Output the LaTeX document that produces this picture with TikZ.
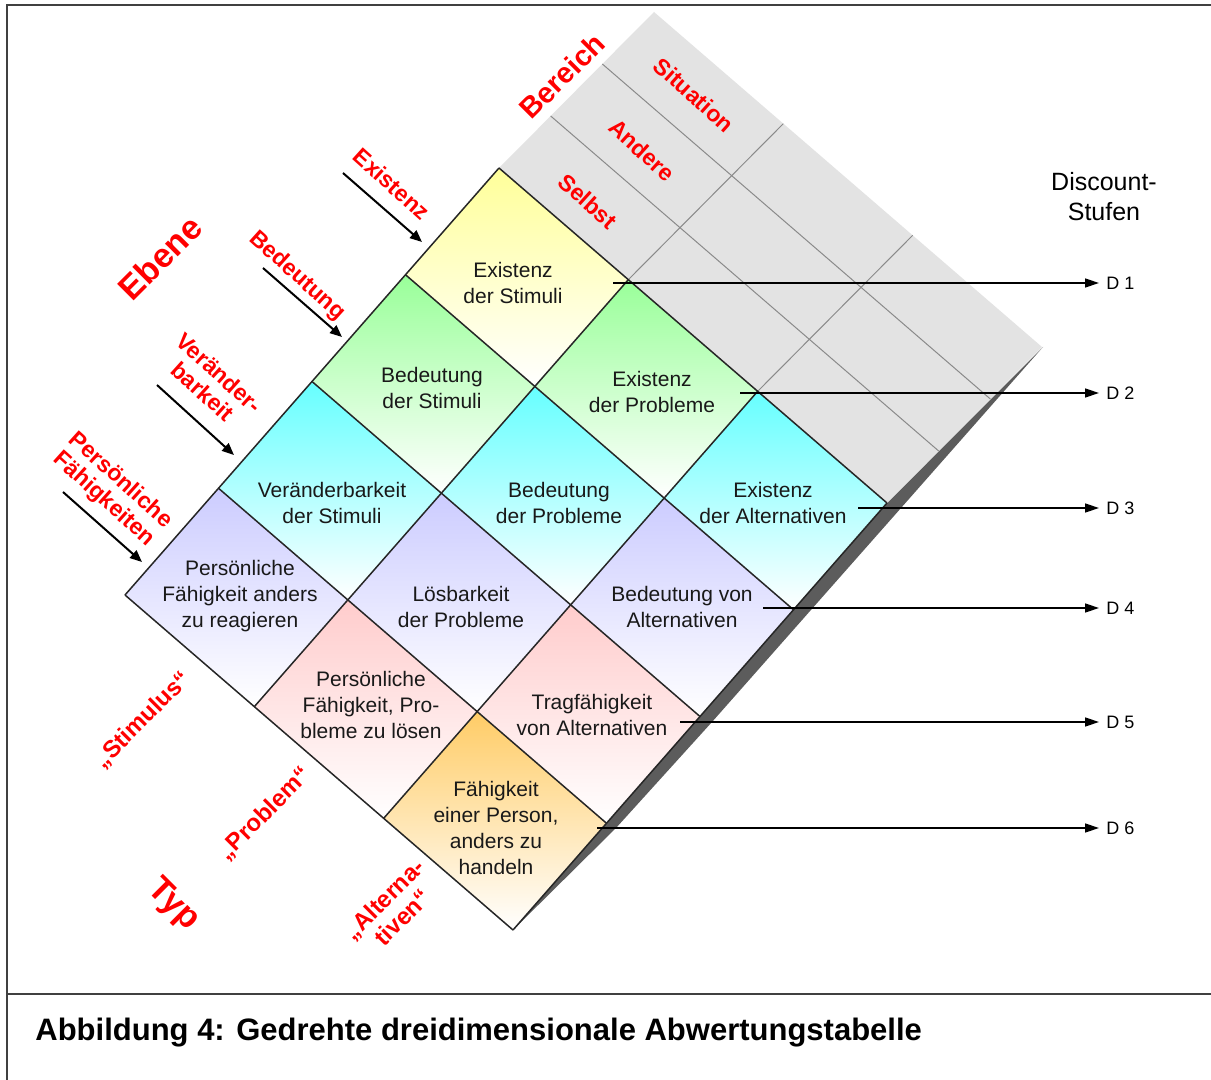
\documentclass[tikz,border=0pt]{standalone}
\usepackage{fontspec}
\setmainfont{Liberation Sans}
\usetikzlibrary{arrows.meta}
\definecolor{cY}{HTML}{FFFF99}
\definecolor{cG}{HTML}{99FF99}
\definecolor{cC}{HTML}{66FFFF}
\definecolor{cB}{HTML}{CCCCFF}
\definecolor{cP}{HTML}{FFCCCC}
\definecolor{cO}{HTML}{FFCC66}
\definecolor{topgrey}{HTML}{E3E3E3}
\definecolor{sidegrey}{HTML}{5C5C5C}
\definecolor{gridgrey}{HTML}{8A8A8A}
\definecolor{lblred}{HTML}{FF0000}
\definecolor{framegrey}{HTML}{404040}
\begin{document}
\begin{tikzpicture}[x=0.5pt,y=-0.5pt,
  celltext/.style={align=center, font=\fontsize{10.5}{13}\selectfont, text=black!90, inner sep=0pt},
  redlbl/.style={text=lblred, font=\bfseries\fontsize{11.5}{12.5}\selectfont, align=center, inner sep=0pt},
  midlbl/.style={text=lblred, font=\bfseries\fontsize{12}{13}\selectfont, align=center, inner sep=0pt},
  biglbl/.style={text=lblred, font=\bfseries\fontsize{17}{20}\selectfont, inner sep=0pt},
  lvlarrow/.style={-{Triangle[length=6pt,width=5pt]}, line width=1pt, black},
  darrow/.style={-{Triangle[length=7pt,width=4.5pt]}, line width=0.7pt, black},
  dlbl/.style={font=\fontsize{9}{10}\selectfont, anchor=west, inner ysep=0pt, inner xsep=3.5pt},
  cellborder/.style={draw=black!85, line width=0.75pt},
  topgrid/.style={draw=gridgrey, line width=0.5pt},
]
\useasboundingbox (0,0) rectangle (1211,1080);
\fill[white] (0,0) rectangle (1211,1080);

% frame
\draw[framegrey, line width=1pt] (7,1082) -- (7,5) -- (1213,5);
\draw[framegrey, line width=1pt] (7,994) -- (1213,994);

% side face (thin shaded strip)
\fill[sidegrey] (1043,347) -- (901,508) -- (712,722) -- (616,828) -- (513,930) -- (887,503) -- cycle;

\begin{scope}[shift={(499,168)}, x={(64.667pt,-55.833pt)}, y={(-46.75pt,-53.375pt)}, z={(25.833pt,26pt)}]
  % top face
  \fill[topgrey] (0,0,0) -- (3,0,0) -- (3,0,3) -- (0,0,3) -- cycle;
  \foreach \k in {1,2} \draw[topgrid] (0,0,\k) -- (3,0,\k);
  \foreach \j in {1,2} \draw[topgrid] (\j,0,0) -- (\j,0,3);
  % cells
  \foreach \i in {0,...,3}{
    \foreach \j in {0,1,2}{
      \pgfmathtruncatemacro{\d}{\i+\j}
      \ifcase\d \def\cc{cY}\or\def\cc{cG}\or\def\cc{cC}\or\def\cc{cB}\or\def\cc{cP}\or\def\cc{cO}\fi
      \shade[top color=\cc, bottom color=white] (\j,\i) -- (\j+1,\i) -- (\j+1,\i+1) -- (\j,\i+1) -- cycle;
    }
  }
  \foreach \i in {0,...,4} \draw[cellborder] (0,\i) -- (3,\i);
  \foreach \j in {0,...,3} \draw[cellborder] (\j,0) -- (\j,4);
\end{scope}

% cell texts
\node[celltext] (c00) at (513,283) {Existenz\\der Stimuli};
\node[celltext] (c01) at (652,392) {Existenz\\der Probleme};
\node[celltext] (c02) at (773,503) {Existenz\\der Alternativen};
\node[celltext] (c10) at (432,388) {Bedeutung\\der Stimuli};
\node[celltext] (c11) at (559,503) {Bedeutung\\der Probleme};
\node[celltext] (c12) at (682,607) {Bedeutung von\\Alternativen};
\node[celltext] (c20) at (332,503) {Veränderbarkeit\\der Stimuli};
\node[celltext] (c21) at (461,607) {Lösbarkeit\\der Probleme};
\node[celltext] (c22) at (592,715) {Tragfähigkeit\\von Alternativen};
\node[celltext] (c30) at (240,596) {Persönliche\\Fähigkeit anders\\zu reagieren};
\node[celltext] (c31) at (371,705) {Persönliche\\Fähigkeit, Pro-\\bleme zu lösen};
\node[celltext] (c32) at (496,828) {Fähigkeit\\einer Person,\\anders zu\\handeln};

% discount levels
\node[align=center, font=\fontsize{12.5}{15}\selectfont, inner sep=0pt] (disc) at (1104,197) {Discount-\\Stufen};
\coordinate (s1) at (613,283);
\coordinate (s2) at (740,393);
\coordinate (s3) at (858,508);
\coordinate (s4) at (763,608);
\coordinate (s5) at (680,722);
\coordinate (s6) at (597,828);
\node[dlbl] (d1) at (1099,283) {D 1};
\node[dlbl] (d2) at (1099,393) {D 2};
\node[dlbl] (d3) at (1099,508) {D 3};
\node[dlbl] (d4) at (1099,608) {D 4};
\node[dlbl] (d5) at (1099,722) {D 5};
\node[dlbl] (d6) at (1099,828) {D 6};
\foreach \n in {1,...,6} \draw[darrow] (s\n) -- (d\n);

% level arrows
\coordinate (e1a) at (343,173); \coordinate (e1b) at (422,242);
\coordinate (e2a) at (263,268); \coordinate (e2b) at (342,337);
\coordinate (e3a) at (157,385); \coordinate (e3b) at (234,455);
\coordinate (e4a) at (63,492);  \coordinate (e4b) at (142,562);
\foreach \n in {1,...,4} \draw[lvlarrow] (e\n a) -- (e\n b);

% red labels
\node[redlbl, rotate=-42] (lExistenz) at (392,184) {Existenz};
\node[redlbl, rotate=-42] (lBedeutung) at (297,276) {Bedeutung};
\node[redlbl, rotate=-42] (lVer) at (211,382) {Veränder-\\barkeit};
\node[redlbl, rotate=-42] (lPers) at (112,490) {Persönliche\\Fähigkeiten};
\node[redlbl, rotate=-42] (lSit) at (694,95) {Situation};
\node[redlbl, rotate=-42] (lAnd) at (642,150) {Andere};
\node[redlbl, rotate=-42] (lSelbst) at (588,201) {Selbst};
\node[biglbl, font=\bfseries\fontsize{14.5}{16}\selectfont, rotate=45] (lBereich) at (562,76) {Bereich};
\node[biglbl, rotate=45] (lEbene) at (160,258) {Ebene};
\node[biglbl, rotate=-45] (lTyp) at (173,905) {Typ};
\node[midlbl, rotate=45] (lStim) at (143,720) {„Stimulus“};
\node[midlbl, rotate=45] (lProb) at (265,814) {„Problem“};
\node[midlbl, rotate=45] (lAlt) at (393,908) {„Alterna-\\tiven“};

% caption
\node[anchor=west, font=\bfseries\fontsize{15.5}{18}\selectfont, inner sep=0pt] (cap) at (35,1033) {Abbildung 4: Gedrehte dreidimensionale Abwertungstabelle};
\end{tikzpicture}
\end{document}
